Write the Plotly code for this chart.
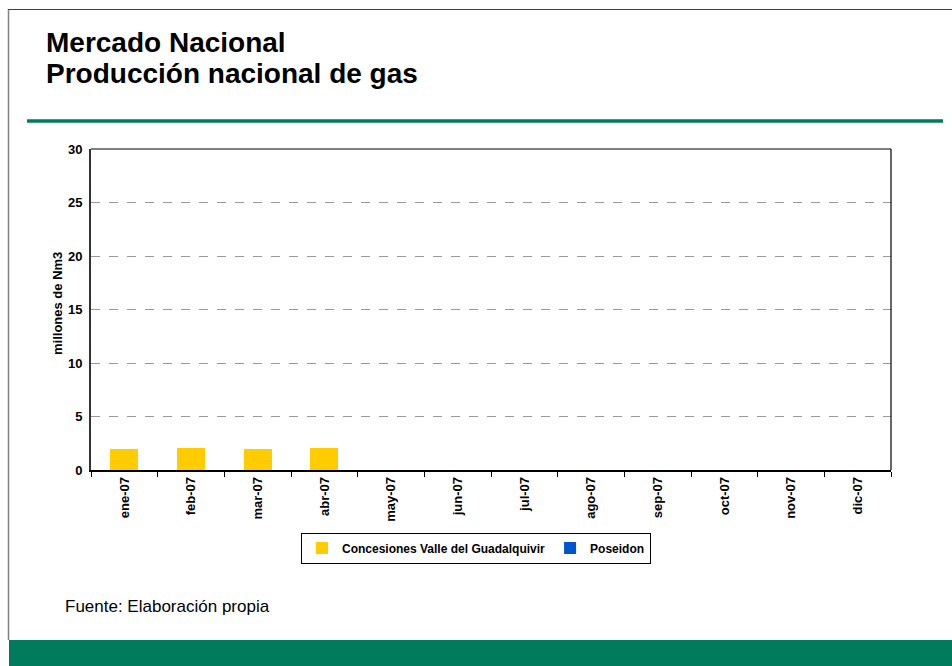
import plotly.graph_objects as go

# Monthly national gas production (millions of Nm3)
months = ["ene-07", "feb-07", "mar-07", "abr-07", "may-07", "jun-07",
          "jul-07", "ago-07", "sep-07", "oct-07", "nov-07", "dic-07"]
valle_guadalquivir = [1.98, 2.08, 1.97, 2.09, None, None, None, None, None, None, None, None]
poseidon = [None] * 12

y_ticks = [0, 5, 10, 15, 20, 25, 30]

W, H = 952, 666
L, R, T, B = 91, 891, 149, 470  # plot area in pixels


def px(x):
    return (x - L) / (R - L)


def py(y):
    return (B - y) / (B - T)


GREEN = "#007B5B"
FONT = "Liberation Sans, Arial, sans-serif"

fig = go.Figure()
fig.add_bar(x=months, y=valle_guadalquivir, name="<b>Concesiones Valle del Guadalquivir</b>",
            marker=dict(color="#FFCC00", line=dict(width=0)))
fig.add_bar(x=months, y=poseidon, name="<b>Poseidon</b>",
            marker=dict(color="#0055CC", line=dict(width=0)))

shapes = [
    # page frame
    dict(type="line", xref="paper", yref="paper", x0=px(8.5), x1=px(8.5), y0=py(9), y1=py(640),
         line=dict(color="#808080", width=1.5)),
    dict(type="line", xref="paper", yref="paper", x0=px(8), x1=px(952), y0=py(9.5), y1=py(9.5),
         line=dict(color="#404040", width=1)),
    # green rule below the title
    dict(type="line", xref="paper", yref="paper", x0=px(27), x1=px(943), y0=py(121), y1=py(121),
         line=dict(color=GREEN, width=3.5)),
    # green footer band
    dict(type="rect", xref="paper", yref="paper", x0=px(9), x1=px(952), y0=py(640), y1=py(666),
         fillcolor=GREEN, line=dict(width=0), layer="below"),
    # plot frame top and right
    dict(type="line", xref="paper", yref="paper", x0=0, x1=1, y0=1, y1=1,
         line=dict(color="black", width=1.2)),
    dict(type="line", xref="paper", yref="paper", x0=1, x1=1, y0=0, y1=1,
         line=dict(color="black", width=1.2)),
]

annotations = [
    dict(text="<b>Mercado Nacional</b>", xref="paper", yref="paper",
         x=px(45), y=py(59), xanchor="left", yanchor="bottom", showarrow=False, align="left",
         borderpad=0, font=dict(family=FONT, size=28, color="black")),
    dict(text="<b>Producción nacional de gas</b>", xref="paper", yref="paper",
         x=px(45), y=py(90), xanchor="left", yanchor="bottom", showarrow=False, align="left",
         borderpad=0, font=dict(family=FONT, size=28, color="black")),
    dict(text="Fuente: Elaboración propia", xref="paper", yref="paper",
         x=px(63), y=py(606), xanchor="left", yanchor="middle", showarrow=False,
         font=dict(family=FONT, size=17, color="black")),
    dict(text="<b>millones de Nm3</b>", xref="paper", yref="paper", textangle=-90,
         x=px(57), y=py(304), xanchor="center", yanchor="middle", showarrow=False,
         font=dict(family=FONT, size=13, color="black")),
]

fig.update_layout(
    width=W, height=H,
    margin=dict(l=L, r=W - R, t=T, b=H - B, pad=0),
    paper_bgcolor="white", plot_bgcolor="white",
    barmode="stack", bargap=0.58,
    font=dict(family=FONT, size=11, color="black"),
    showlegend=True,
    legend=dict(orientation="h", x=px(476), y=py(548), xanchor="center", yanchor="middle",
                traceorder="normal", bordercolor="black", borderwidth=1,
                font=dict(family=FONT, size=12, color="black"),
                itemwidth=30, tracegroupgap=0),
    shapes=shapes, annotations=annotations,
)

fig.update_xaxes(
    type="category", tickangle=-90, showline=True, linecolor="black", linewidth=1.5,
    ticks="outside", ticklen=5, tickcolor="black", tickson="boundaries",
    showgrid=False, tickfont=dict(family=FONT, size=13, color="black"),
    ticktext=[f"<b>{m}</b>" for m in months], tickvals=months,
)
fig.update_yaxes(
    range=[0, 30], tickvals=y_ticks, ticktext=[f"<b>{v}</b>" for v in y_ticks],
    showline=True, linecolor="#333333", linewidth=2, ticks="outside", ticklen=4,
    tickcolor="rgba(0,0,0,0)",
    showgrid=True, gridcolor="#999999", griddash="dash", gridwidth=1, zeroline=False,
    tickfont=dict(family=FONT, size=13, color="black"),
)

fig.write_html("out.html")
